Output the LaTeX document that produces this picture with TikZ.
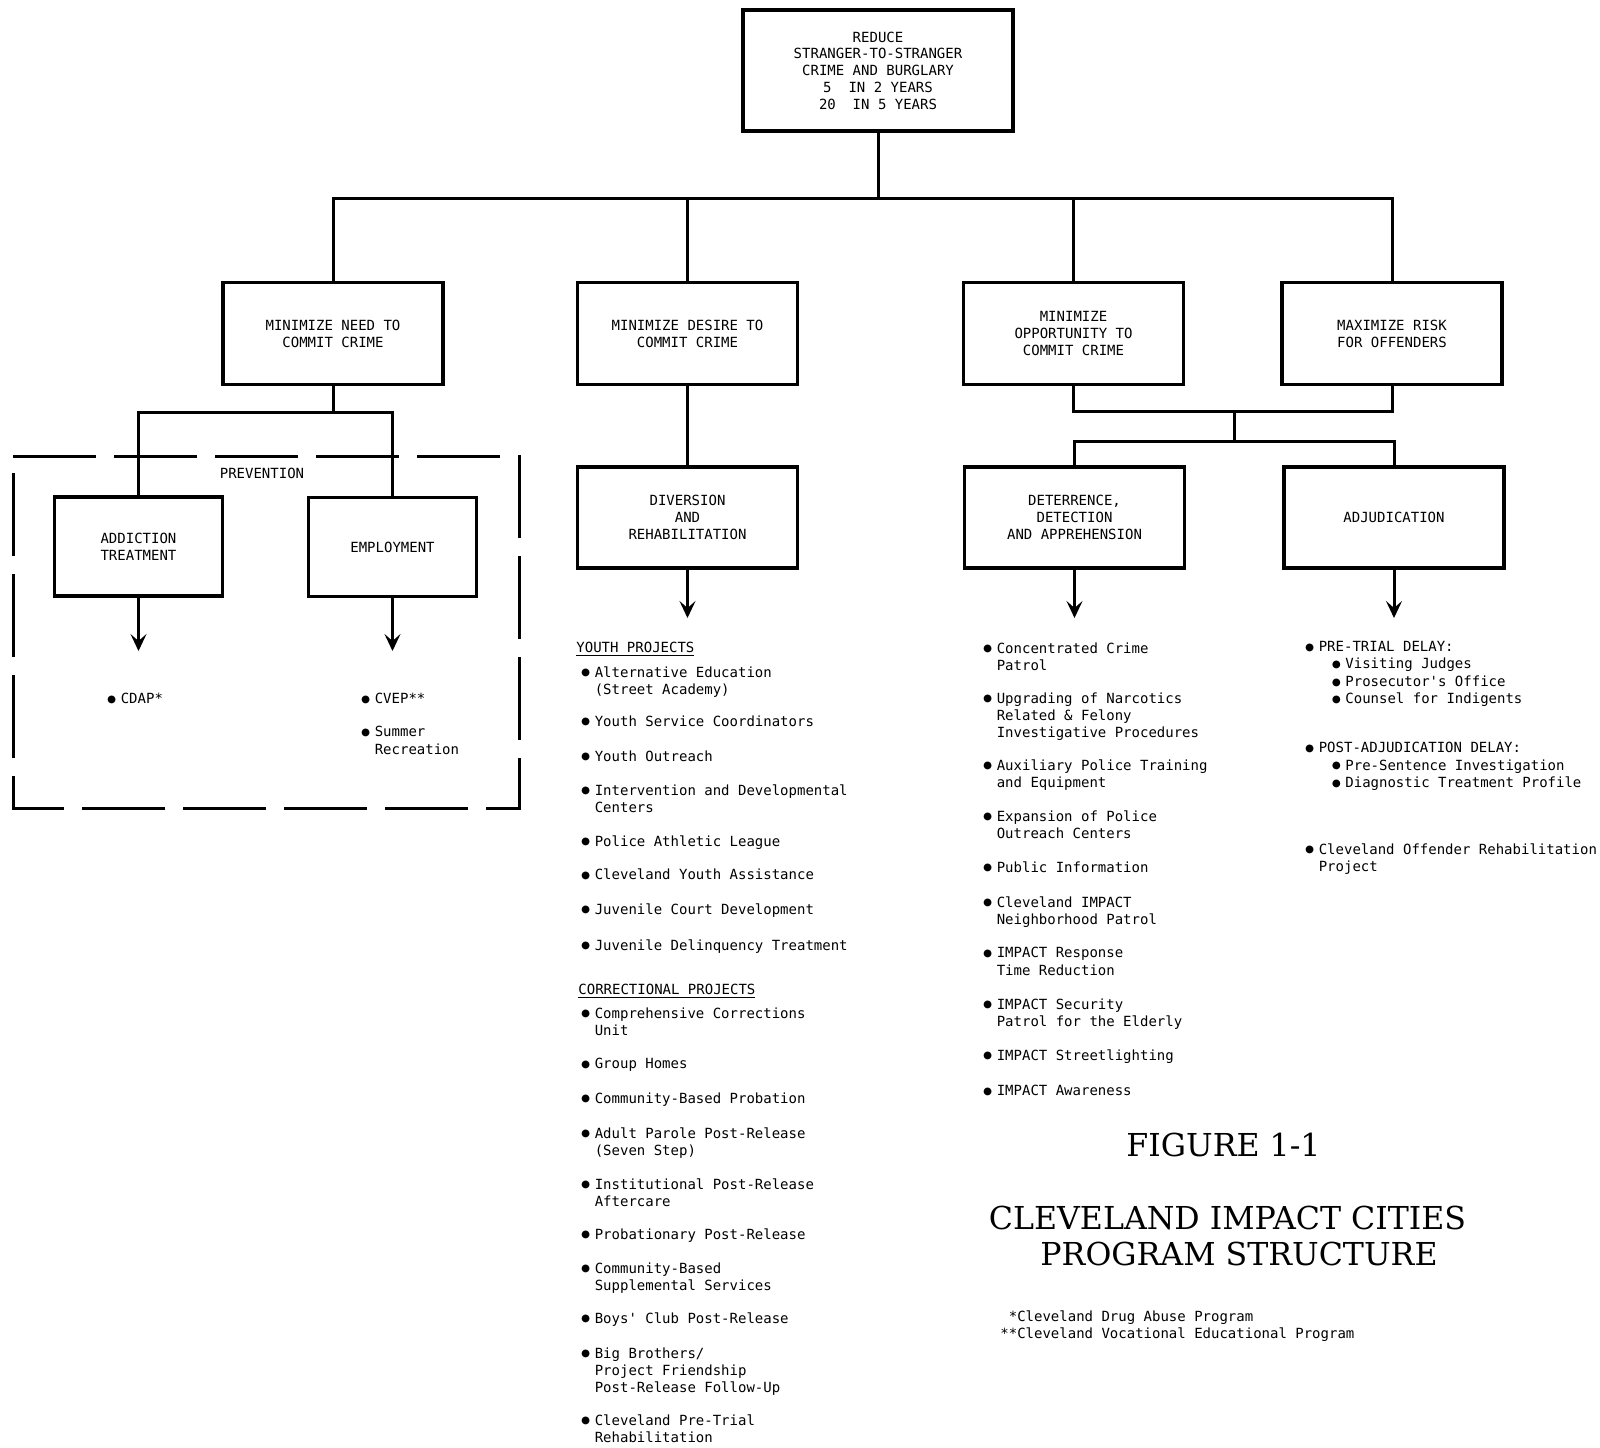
\documentclass[tikz,border=0pt]{standalone}
\usepackage{fontspec}
\usetikzlibrary{arrows.meta}
\newfontfamily\typefont{DejaVu Sans Mono}
\newfontfamily\titlefont{DejaVu Serif}
\newcommand{\bul}{\makebox[7.2pt][l]{\raisebox{-0.4pt}{\scalebox{1.3}{$\bullet$}}}}
\newcommand{\hang}{\hspace*{7.2pt}}
\newcommand{\sub}{\hspace*{13.3pt}\bul}

\begin{document}
\begin{tikzpicture}[x=0.5pt, y=-0.5pt,
		box/.style={draw, line width=1.7pt, inner sep=0pt, align=center, minimum width=110pt, minimum height=51pt, font=\typefont\fontsize{7}{8.4}\selectfont},
		link/.style={line width=1.5pt},
		arr/.style={line width=1.5pt, -{Stealth[length=8.5pt, width=8pt, inset=3.5pt]}},
		item/.style={anchor=north west, inner sep=0pt, align=left, font=\typefont\fontsize{7}{8.65}\selectfont},
		title/.style={inner sep=0pt, font=\titlefont\fontsize{15.8}{19}\selectfont}]
	\useasboundingbox (0, 0) rectangle (1600, 1447);

	\node[box, minimum width=135pt, minimum height=60.5pt] (goal) at(878, 70.5){REDUCE\\STRANGER-TO-STRANGER\\CRIME AND BURGLARY\\5\ \ IN 2 YEARS\\20\ \ IN 5 YEARS};

		\node[box] (need) at(333, 333.5){MINIMIZE NEED TO\\COMMIT CRIME};
		\node[box] (desire) at(687.5, 333.5){MINIMIZE DESIRE TO\\COMMIT CRIME};
		\node[box] (opport) at(1073.5, 333.5){MINIMIZE\\OPPORTUNITY TO\\COMMIT CRIME};
		\node[box] (risk) at(1392, 333.5){MAXIMIZE RISK\\FOR OFFENDERS};

			\node[box, minimum width=84pt, minimum height=49.5pt] (addict) at(138.5, 546.5){ADDICTION\\TREATMENT};
			\node[box, minimum width=84pt, minimum height=49.5pt] (employ) at(392.5, 547){EMPLOYMENT};
			\node[box, minimum height=50.5pt] (divert) at(687.5, 517.5){DIVERSION\\AND\\REHABILITATION};
			\node[box, minimum height=50.5pt] (deter) at(1074.5, 517.5){DETERRENCE,\\DETECTION\\AND APPREHENSION};
			\node[box, minimum height=50.5pt] (adjud) at(1394, 517.5){ADJUDICATION};

	\draw[link] (goal.south) to ++(0, 66) -| (need.north);
	\draw[link] (goal.south) to ++(0, 66) -| (desire.north);
	\draw[link] (goal.south) to ++(0, 66) -| (opport.north);
	\draw[link] (goal.south) to ++(0, 66) -| (risk.north);

		\draw[link] (need.south) to ++(0, 26.5) -| (addict.north);
		\draw[link] (need.south) to ++(0, 26.5) -| (employ.north);
		\draw[link] (desire.south) to (divert.north);
		\coordinate (join) at(1234, 411);
		\draw[link] (opport.south) |- (join) -| (risk.south);
		\draw[link] (join) to ++(0, 30) -| (deter.north);
		\draw[link] (join) to ++(0, 30) -| (adjud.north);

	\coordinate (cdaptip) at(138.5, 651);
	\coordinate (cveptip) at(392.5, 651);
	\coordinate (divtip) at(687.5, 618);
	\coordinate (dettip) at(1074.5, 618);
	\coordinate (adjtip) at(1394, 618);
		\draw[arr] (addict.south) to (cdaptip);
		\draw[arr] (employ.south) to (cveptip);
		\draw[arr] (divert.south) to (divtip);
		\draw[arr] (deter.south) to (dettip);
		\draw[arr] (adjud.south) to (adjtip);

	\draw[line width=1.5pt, dash pattern=on 41.5pt off 9pt] (13, 456) -- (519, 456) -- (519, 808) -- (13, 808) -- cycle;
		\node[item, anchor=center] (prevlbl) at(262, 473){PREVENTION};
		\node[item] (cdap) at(106, 693){\bul CDAP*};
		\node[item] (cvep) at(360, 693){\bul CVEP**};
		\node[item] (summer) at(360, 726){\bul Summer\\\hang Recreation};

	\node[item] (youth) at(576, 642){\underline{YOUTH PROJECTS}};
		\node[item] (y1) at(580, 666){\bul Alternative Education\\\hang (Street Academy)};
		\node[item] (y2) at(580, 715){\bul Youth Service Coordinators};
		\node[item] (y3) at(580, 750){\bul Youth Outreach};
		\node[item] (y4) at(580, 784){\bul Intervention and Developmental\\\hang Centers};
		\node[item] (y5) at(580, 835){\bul Police Athletic League};
		\node[item] (y6) at(580, 868.5){\bul Cleveland Youth Assistance};
		\node[item] (y7) at(580, 903){\bul Juvenile Court Development};
		\node[item] (y8) at(580, 939){\bul Juvenile Delinquency Treatment};

	\node[item] (correct) at(578, 984){\underline{CORRECTIONAL PROJECTS}};
		\node[item] (c1) at(580, 1007){\bul Comprehensive Corrections\\\hang Unit};
		\node[item] (c2) at(580, 1058){\bul Group Homes};
		\node[item] (c3) at(580, 1092){\bul Community-Based Probation};
		\node[item] (c4) at(580, 1127){\bul Adult Parole Post-Release\\\hang (Seven Step)};
		\node[item] (c5) at(580, 1178){\bul Institutional Post-Release\\\hang Aftercare};
		\node[item] (c6) at(580, 1228){\bul Probationary Post-Release};
		\node[item] (c7) at(580, 1262){\bul Community-Based\\\hang Supplemental Services};
		\node[item] (c8) at(580, 1312){\bul Boys' Club Post-Release};
		\node[item] (c9) at(580, 1347){\bul Big Brothers/\\\hang Project Friendship\\\hang Post-Release Follow-Up};
		\node[item] (c10) at(580, 1414){\bul Cleveland Pre-Trial\\\hang Rehabilitation};

	\node[item] (d1) at(982, 642){\bul Concentrated Crime\\\hang Patrol};
	\node[item] (d2) at(982, 692){\bul Upgrading of Narcotics\\\hang Related \& Felony\\\hang Investigative Procedures};
	\node[item] (d3) at(982, 759){\bul Auxiliary Police Training\\\hang and Equipment};
	\node[item] (d4) at(982, 810){\bul Expansion of Police\\\hang Outreach Centers};
	\node[item] (d5) at(982, 861){\bul Public Information};
	\node[item] (d6) at(982, 896){\bul Cleveland IMPACT\\\hang Neighborhood Patrol};
	\node[item] (d7) at(982, 947){\bul IMPACT Response\\\hang Time Reduction};
	\node[item] (d8) at(982, 998){\bul IMPACT Security\\\hang Patrol for the Elderly};
	\node[item] (d9) at(982, 1049){\bul IMPACT Streetlighting};
	\node[item] (d10) at(982, 1085){\bul IMPACT Awareness};

	\node[item] (pretrial) at(1304, 641){\bul PRE-TRIAL DELAY:\\\sub Visiting Judges\\\sub Prosecutor's Office\\\sub Counsel for Indigents};
	\node[item] (postadj) at(1304, 742){\bul POST-ADJUDICATION DELAY:\\\sub Pre-Sentence Investigation\\\sub Diagnostic Treatment Profile};
	\node[item] (corp) at(1304, 843){\bul Cleveland Offender Rehabilitation\\\hang Project};

	\node[title] (fig) at(1223.5, 1145){FIGURE 1-1};
	\node[title] (titlea) at(1227.5, 1217.5){CLEVELAND IMPACT CITIES};
	\node[title] (titleb) at(1239, 1254){PROGRAM STRUCTURE};
	\node[item] (notes) at(1000, 1310){\phantom{*}*Cleveland Drug Abuse Program\\**Cleveland Vocational Educational Program};
\end{tikzpicture}
\end{document}
